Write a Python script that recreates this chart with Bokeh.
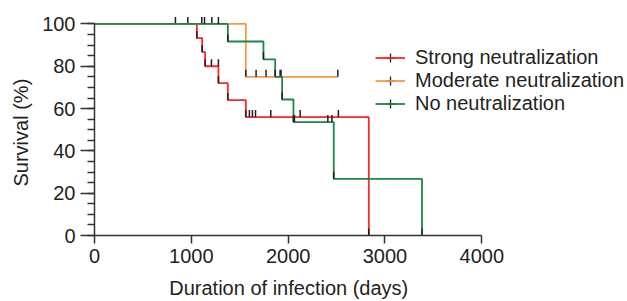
from bokeh.plotting import figure
from bokeh.models import (Range1d, SingleIntervalTicker, Legend, LegendItem,
                          ColumnDataSource, Title)
from bokeh.embed import file_html
from bokeh.resources import INLINE
import math

# ---- data ----
strong_t = [0, 1057, 1112, 1143, 1280, 1377, 1563, 2833]
strong_s = [100, 93.3, 86.7, 80.0, 72.0, 64.0, 56.0, 0]
strong_cens_t = [1208, 1280, 1600, 1631, 1663, 1821, 2124, 2519]
strong_cens_s = [80, 80, 56, 56, 56, 56, 56, 56]

moderate_t = [0, 1563, 2513]
moderate_s = [100, 75, 75]
moderate_cens_t = [836, 964, 1108, 1212, 1669, 1772, 1917, 1927]
moderate_cens_s = [100, 100, 100, 100, 75, 75, 75, 75]

none_t = [0, 1377, 1745, 1866, 1938, 2055, 2471, 3383]
none_s = [100, 91.7, 83.3, 75.0, 64.3, 53.6, 26.8, 0]
none_cens_t = [1136, 1280, 2065, 2410, 2452]
none_cens_s = [100, 100, 53.6, 53.6, 53.6]

labels = ["Strong neutralization", "Moderate neutralization", "No neutralization"]
colors = ["#f42a2a", "#f59a4a", "#1b8746"]
x_ticks = [0, 1000, 2000, 3000, 4000]
x_title = "Duration of infection (days)"
y_title = "Survival (%)"

FONT = "Liberation Sans"
TICK_COLOR = "#231f20"
TEXT_COLOR = "#231f20"

W, H = 627, 301
LEFT, TOP, BOTTOM, RIGHT = 93, 15, 66, 0
X_AXIS_END_PX = 481  # where 4000 days sits in the reference
frame_w = W - LEFT - RIGHT
x_end = 4000 * frame_w / (X_AXIS_END_PX - LEFT)

p = figure(width=W, height=H, output_backend="svg", toolbar_location=None,
           x_range=Range1d(0, x_end), y_range=Range1d(0, 104),
           min_border_left=LEFT, min_border_right=RIGHT,
           min_border_top=TOP, min_border_bottom=BOTTOM)
p.outline_line_color = None
p.grid.grid_line_color = None
p.background_fill_color = None
p.border_fill_color = "white"

xa = p.xaxis[0]
xa.ticker = x_ticks
xa.bounds = (0, 4000)
xa.major_tick_out = 8
xa.major_tick_in = 0
xa.major_label_standoff = 5
# the frame runs past 4000 to hold the legend; trailing no-break spaces keep
# the label centred under the 0-4000 axis span
xa.axis_label = x_title + "\u00a0" * 26
xa.axis_label_standoff = 11

ya = p.yaxis[0]
ya.ticker = SingleIntervalTicker(interval=20, num_minor_ticks=4)
ya.bounds = (0, 100)
ya.major_tick_out = 14
ya.major_tick_in = 0
ya.minor_tick_out = 7
ya.minor_tick_in = 0
ya.major_label_standoff = 5

for ax in (xa, ya):
    ax.axis_line_color = "#333333"
    ax.axis_line_width = 1.5
    ax.major_tick_line_color = "#333333"
    ax.major_tick_line_width = 1.5
    ax.minor_tick_line_width = 1.5
    ax.major_label_text_font = FONT
    ax.major_label_text_font_size = "20px"
    ax.major_label_text_color = TEXT_COLOR
    ax.axis_label_text_font = FONT
    ax.axis_label_text_font_size = "20px"
    ax.axis_label_text_font_style = "normal"
    ax.axis_label_text_color = TEXT_COLOR
xa.minor_tick_line_color = None
ya.minor_tick_line_color = "#333333"

# y-axis title (positioned along the 0-100 axis span)
yt = Title(text=y_title, align="left", offset=49, standoff=15,
           text_font=FONT, text_font_size="20px", text_font_style="normal",
           text_color=TEXT_COLOR)
p.add_layout(yt, "left")

TICK_PX = 7
px_per_unit = (H - TOP - BOTTOM) / 104.0
off = TICK_PX / 2 / px_per_unit

groups = [
    (strong_t, strong_s, strong_cens_t, strong_cens_s),
    (moderate_t, moderate_s, moderate_cens_t, moderate_cens_s),
    (none_t, none_s, none_cens_t, none_cens_s),
]
items = []
for (t, s, ct, cs), lab, col in zip(groups, labels, colors):
    line = p.step(t, s, mode="after", line_color=col, line_width=1.8)
    # tick marks at every event (deaths at new level) and at censored points
    tx = list(t[1:]) + list(ct)
    ty = [v + off for v in list(s[1:]) + list(cs)]
    src = ColumnDataSource(dict(x=tx, y=ty))
    p.scatter("x", "y", source=src, marker="dash", angle=math.pi / 2,
              size=TICK_PX, line_color=TICK_COLOR, line_width=1.5)
    # legend-only tick symbol (no position, so nothing is drawn in the plot)
    leg_src = ColumnDataSource(dict(x=[float("nan")], y=[float("nan")]))
    leg_tick = p.scatter("x", "y", source=leg_src, marker="cross", size=10,
                         line_color=TICK_COLOR, line_width=1.3)
    items.append(LegendItem(label=lab, renderers=[leg_tick, line]))

legend = Legend(items=items, location=(281, 120))
legend.label_text_font = FONT
legend.label_text_font_size = "20px"
legend.label_text_color = TEXT_COLOR
legend.glyph_width = 30
legend.glyph_height = 23
legend.label_height = 23
legend.label_standoff = 10
legend.spacing = 0
legend.padding = 0
legend.margin = 0
legend.border_line_color = None
legend.background_fill_alpha = 0
p.add_layout(legend, "center")

open("out.html", "w").write(file_html(p, INLINE))
